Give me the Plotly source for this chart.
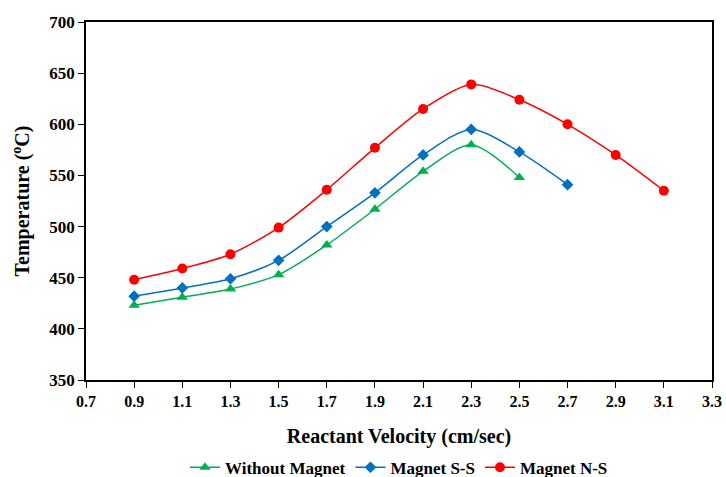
import plotly.graph_objects as go

velocity_without = [0.9, 1.1, 1.3, 1.5, 1.7, 1.9, 2.1, 2.3, 2.5]
temp_without = [423, 431, 439, 453, 482, 517, 554, 580, 548]

velocity_ss = [0.9, 1.1, 1.3, 1.5, 1.7, 1.9, 2.1, 2.3, 2.5, 2.7]
temp_ss = [432, 440, 449, 467, 500, 533, 570, 595, 573, 541]

velocity_ns = [0.9, 1.1, 1.3, 1.5, 1.7, 1.9, 2.1, 2.3, 2.5, 2.7, 2.9, 3.1]
temp_ns = [448, 459, 473, 499, 536, 577, 615, 639, 624, 600, 570, 535]

x_ticks = [0.7, 0.9, 1.1, 1.3, 1.5, 1.7, 1.9, 2.1, 2.3, 2.5, 2.7, 2.9, 3.1, 3.3]
y_ticks = [350, 400, 450, 500, 550, 600, 650, 700]

FONT = "Liberation Serif"

fig = go.Figure()
fig.add_trace(go.Scatter(
    x=velocity_without, y=temp_without, name="<b>Without Magnet</b>",
    mode="lines+markers", line=dict(color="#00B050", width=1.5, shape="spline", smoothing=0.8),
    marker=dict(symbol="triangle-up", size=10, color="#00B050")))
fig.add_trace(go.Scatter(
    x=velocity_ss, y=temp_ss, name="<b>Magnet S-S</b>",
    mode="lines+markers", line=dict(color="#0070C0", width=1.5, shape="spline", smoothing=0.8),
    marker=dict(symbol="diamond", size=9, color="#0070C0")))
fig.add_trace(go.Scatter(
    x=velocity_ns, y=temp_ns, name="<b>Magnet N-S</b>",
    mode="lines+markers", line=dict(color="#FF0000", width=1.5, shape="spline", smoothing=0.8),
    marker=dict(symbol="circle", size=10, color="#FF0000")))

fig.update_layout(
    width=726, height=477,
    paper_bgcolor="white", plot_bgcolor="white",
    margin=dict(l=86, r=14, t=22, b=97, autoexpand=False),
    font=dict(family=FONT, size=16, color="black"),
    legend=dict(orientation="h", x=0.5, xanchor="center", y=-0.245, yanchor="middle",
                font=dict(family=FONT, size=17, color="black"),
                tracegroupgap=0, itemsizing="trace"),
    xaxis=dict(
        range=[0.7, 3.3], tickvals=x_ticks,
        ticktext=[f"<b>{v:.1f}</b>" for v in x_ticks],
        showgrid=False, zeroline=False, automargin=False,
        showline=True, linecolor="black", linewidth=1.5, mirror=True,
        ticks="outside", ticklen=6, tickcolor="black",
        tickfont=dict(family=FONT, size=16, color="black"),
        title=dict(text="<b>Reactant Velocity (cm/sec)</b>", font=dict(family=FONT, size=20, color="black"), standoff=20),
    ),
    yaxis=dict(
        range=[350, 700], tickvals=y_ticks,
        ticktext=[f"<b>{v}</b>" for v in y_ticks],
        showgrid=False, zeroline=False, automargin=False,
        showline=True, linecolor="black", linewidth=1.5, mirror=True,
        ticks="outside", ticklen=6, tickcolor="black",
        tickfont=dict(family=FONT, size=17, color="black"),
        title=dict(text="<b>Temperature (<sup>o</sup>C)</b>", font=dict(family=FONT, size=20, color="black"), standoff=14),
    ),
)

fig.write_html("out.html", config={"displayModeBar": False},
               post_script="document.body.style.margin='0';")
